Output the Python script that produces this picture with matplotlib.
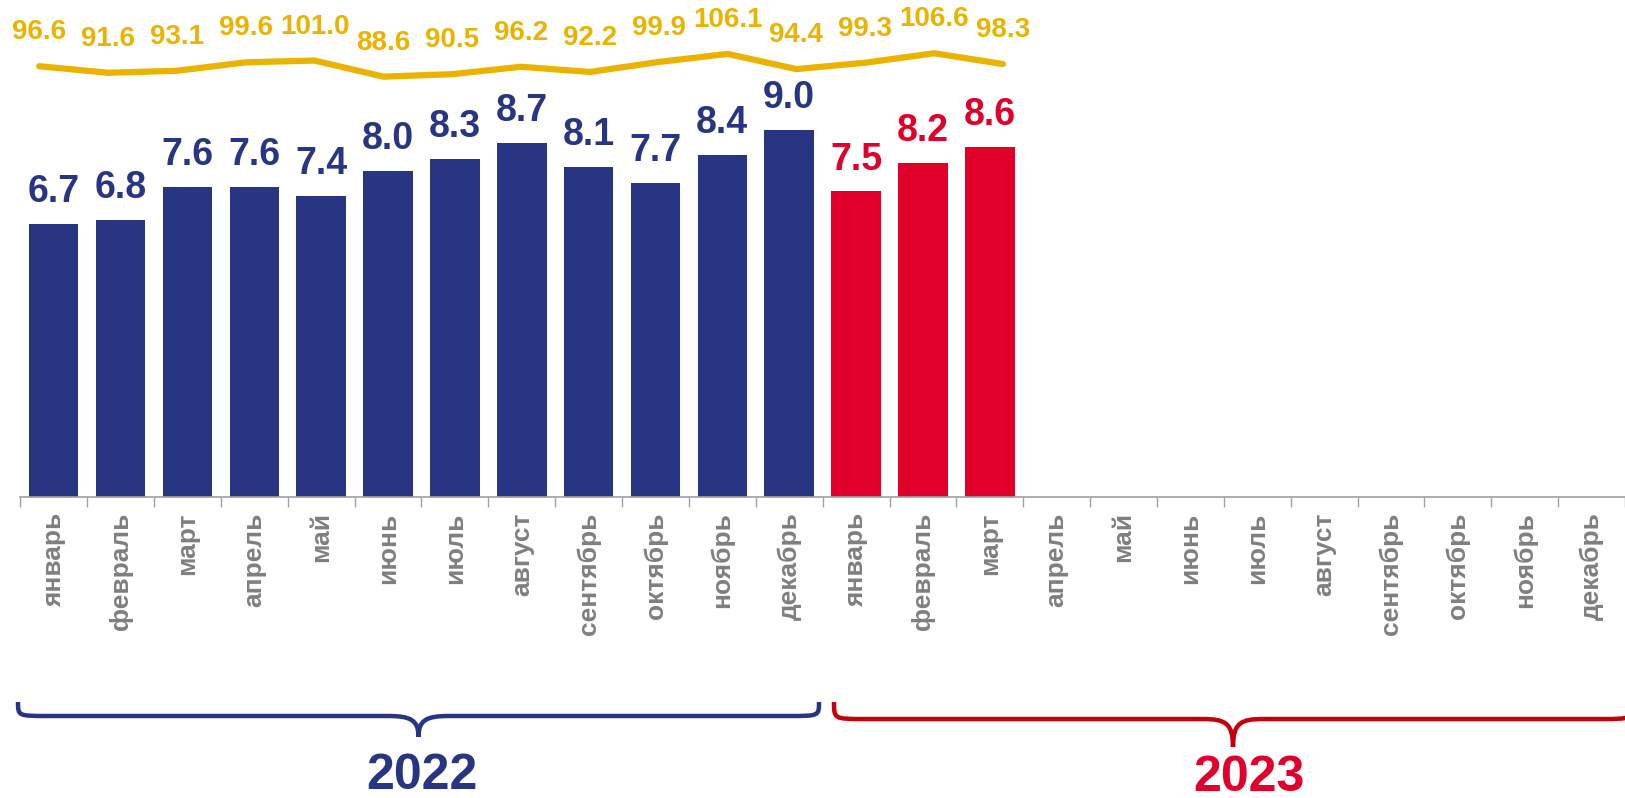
import matplotlib
matplotlib.use("Agg")
import matplotlib.pyplot as plt
from matplotlib.path import Path
from matplotlib.patches import PathPatch
from matplotlib import font_manager

# data
months = ["январь", "февраль", "март", "апрель", "май", "июнь", "июль", "август",
          "сентябрь", "октябрь", "ноябрь", "декабрь"]
tick_labels = months + months
bars_2022 = [6.7, 6.8, 7.6, 7.6, 7.4, 8.0, 8.3, 8.7, 8.1, 7.7, 8.4, 9.0]
bars_2023 = [7.5, 8.2, 8.6]
index_vals = [96.6, 91.6, 93.1, 99.6, 101.0, 88.6, 90.5, 96.2, 92.2, 99.9, 106.1, 94.4,
              99.3, 106.6, 98.3]
years = ["2022", "2023"]

NAVY = "#283583"
RED = "#e0002a"
RED_DARK = "#c4000c"
GOLD = "#e9b300"
GRAY = "#7f7f7f"

names = {f.name for f in font_manager.fontManager.ttflist}
narrow = "Liberation Sans Narrow" if "Liberation Sans Narrow" in names else "Liberation Sans"
plt.rcParams["font.family"] = ["Liberation Sans", "DejaVu Sans"]

W, H = 1625, 798
fig = plt.figure(figsize=(W / 100, H / 100), dpi=100)
base_y = 497
pos = [20.3 / W, 1 - base_y / H, 1 - 20.3 / W, base_y / H]
ax = fig.add_axes(pos)

values = bars_2022 + bars_2023
colors = [NAVY] * len(bars_2022) + [RED] * len(bars_2023)
x = list(range(len(values)))
ax.bar(x, values, width=0.74, color=colors, zorder=2)
for xi, v, c in zip(x, values, colors):
    ax.annotate(f"{v:.1f}", (xi, v), xytext=(0, 23), textcoords="offset points",
                ha="center", va="center", fontsize=27, fontweight="bold", color=c)

xlim = (-0.5, 23.31)
ax.set_xlim(*xlim)
ax.set_ylim(0, 12.2)
ax.set_xticks(range(len(tick_labels)))
ax.set_xticklabels(tick_labels, rotation=90, fontsize=19, fontweight="bold", color=GRAY)
ax.set_xticks([i + 0.5 for i in range(-1, len(tick_labels))], minor=True)
ax.tick_params(axis="x", which="major", length=0, pad=11)
ax.tick_params(axis="x", which="minor", length=7, color="#a0a0a0", width=1)
ax.set_yticks([])
for s in ["top", "left", "right"]:
    ax.spines[s].set_visible(False)
ax.spines["bottom"].set_color("#a0a0a0")
ax.spines["bottom"].set_linewidth(1.2)

# index line sits on its own slightly wider category scale
ax2 = fig.add_axes(pos, facecolor="none")
shift, step = 0.22, 1.0214
ax2.set_xlim((xlim[0] + shift) / step, (xlim[1] + shift) / step)
ax2.set_ylim(-235, 147.6)
ax2.axis("off")
xl = list(range(len(index_vals)))
ax2.plot(xl, index_vals, color=GOLD, lw=4.5, solid_capstyle="round", solid_joinstyle="round")
for xi, v in zip(xl, index_vals):
    ax2.annotate(f"{v:.1f}", (xi, v), xytext=(0, 24.5), textcoords="offset points",
                 ha="center", va="center", fontsize=20, fontweight="bold", color=GOLD)

# overlay in pixel coordinates for braces and year captions
ov = fig.add_axes([0, 0, 1, 1], facecolor="none")
ov.set_xlim(0, W)
ov.set_ylim(H, 0)
ov.axis("off")


def brace(x0, x1, ytop, ymid, ytip, color):
    xc = (x0 + x1) / 2
    r = 30
    verts = [(x0, ytop), (x0, ymid), (x0, ymid), (x0 + r, ymid),
             (xc - r, ymid),
             (xc - 8, ymid), (xc, ymid + 4), (xc, ytip),
             (xc, ymid + 4), (xc + 8, ymid), (xc + r, ymid),
             (x1 - r, ymid),
             (x1, ymid), (x1, ymid), (x1, ytop)]
    codes = [Path.MOVETO, Path.CURVE4, Path.CURVE4, Path.CURVE4,
             Path.LINETO,
             Path.CURVE4, Path.CURVE4, Path.CURVE4,
             Path.CURVE4, Path.CURVE4, Path.CURVE4,
             Path.LINETO,
             Path.CURVE4, Path.CURVE4, Path.CURVE4]
    ov.add_patch(PathPatch(Path(verts, codes), fill=False, edgecolor=color, lw=3.2,
                           capstyle="butt"))
    return xc


c1 = brace(18, 819, 702, 716, 737, NAVY)
c2 = brace(834, 1632, 702, 719, 747, RED_DARK)
ov.text(c1 + 3, 776, years[0], ha="center", va="center", fontsize=36, fontweight="bold",
        color=NAVY, family=[narrow, "DejaVu Sans"])
ov.text(c2 + 16, 778, years[1], ha="center", va="center", fontsize=36, fontweight="bold",
        color=RED, family=[narrow, "DejaVu Sans"])

fig.savefig("out.png", dpi=100)
